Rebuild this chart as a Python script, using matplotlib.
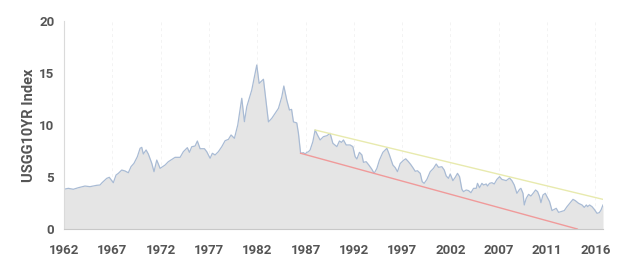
import matplotlib
matplotlib.use('Agg')
import matplotlib.pyplot as plt
import numpy as np

# --- data (decimal year, index value) ---
years = [
    1962.00, 1962.44, 1962.95, 1963.46, 1964.14, 1964.65, 1965.34, 1965.67, 1965.88, 1966.36,
    1966.62, 1967.03, 1967.31, 1967.54, 1967.89, 1968.22, 1968.56, 1968.84, 1969.14, 1969.48,
    1969.76, 1969.93, 1970.09, 1970.37, 1970.60, 1970.95, 1971.18, 1971.46, 1971.72, 1971.80,
    1972.31, 1972.64, 1973.33, 1973.84, 1974.17, 1974.58, 1974.79, 1975.03, 1975.37, 1975.60,
    1975.88, 1976.32, 1976.56, 1976.90, 1977.13, 1977.41, 1977.74, 1978.09, 1978.43, 1978.77,
    1979.04, 1979.38, 1979.72, 1980.13, 1980.40, 1980.64, 1981.15, 1981.66, 1981.90, 1982.34,
    1982.85, 1983.19, 1983.87, 1984.21, 1984.42, 1984.72, 1984.99, 1985.21, 1985.40, 1985.74,
    1985.91, 1986.13, 1986.42, 1986.59, 1986.77, 1986.93, 1987.10, 1987.38, 1987.61, 1987.85,
    1988.12, 1988.46, 1988.81, 1989.14, 1989.42, 1989.62, 1989.83, 1990.09, 1990.30, 1990.50,
    1990.78, 1991.18, 1991.46, 1991.69, 1991.87, 1992.13, 1992.38, 1992.54, 1992.82, 1993.09,
    1993.40, 1993.63, 1993.91, 1994.17, 1994.52, 1994.93, 1995.19, 1995.54, 1995.78, 1996.01,
    1996.29, 1996.62, 1996.85, 1997.10, 1997.36, 1997.58, 1997.82, 1998.05, 1998.33, 1998.53,
    1998.73, 1999.01, 1999.35, 1999.68, 1999.96, 2000.19, 2000.54, 2000.78, 2000.98, 2001.21,
    2001.39, 2001.66, 2001.90, 2002.13, 2002.34, 2002.58, 2002.74, 2003.02, 2003.26, 2003.50,
    2003.77, 2004.04, 2004.17, 2004.38, 2004.62, 2004.79, 2005.06, 2005.19, 2005.40, 2005.64,
    2005.88, 2006.15, 2006.42, 2006.66, 2007.10, 2007.44, 2007.68, 2007.92, 2008.19, 2008.46,
    2008.60, 2008.81, 2008.94, 2009.14, 2009.38, 2009.62, 2009.89, 2010.09, 2010.30, 2010.50,
    2010.64, 2010.85, 2011.08, 2011.26, 2011.52, 2011.77, 2012.00, 2012.20, 2012.44, 2012.68,
    2013.02, 2013.30, 2013.63, 2013.91, 2014.14, 2014.48, 2014.83, 2015.06, 2015.27, 2015.40,
    2015.60, 2015.85, 2016.08, 2016.36, 2016.59, 2016.77, 2016.97,
]
values = [
    3.82, 3.91, 3.82, 3.97, 4.13, 4.07, 4.20, 4.23, 4.45, 4.87,
    4.97, 4.45, 5.19, 5.35, 5.67, 5.58, 5.41, 6.00, 6.32, 6.95,
    7.76, 7.85, 7.21, 7.60, 7.21, 6.32, 5.51, 6.63, 6.00, 5.83,
    6.15, 6.47, 6.89, 6.89, 7.43, 7.82, 7.37, 7.91, 7.98, 8.46,
    7.72, 7.72, 7.43, 6.80, 7.28, 7.12, 7.43, 7.91, 8.49, 8.62,
    9.04, 8.72, 10.00, 12.57, 10.32, 11.76, 13.37, 15.77, 14.00, 14.40,
    10.30, 10.64, 11.60, 12.70, 13.75, 12.40, 11.44, 11.50, 10.30, 10.20,
    9.20, 7.28, 7.34, 7.21, 7.37, 7.43, 7.60, 8.40, 9.52, 9.04,
    8.56, 8.88, 8.97, 9.20, 8.24, 8.08, 7.92, 8.46, 8.33, 8.56,
    8.08, 8.08, 7.92, 6.96, 6.73, 7.37, 7.12, 6.41, 6.47, 6.15,
    5.74, 5.35, 5.83, 6.63, 7.37, 7.76, 7.12, 6.15, 5.90, 5.51,
    6.30, 6.60, 6.75, 6.50, 6.20, 5.90, 5.55, 5.60, 5.35, 4.55,
    4.39, 4.77, 5.51, 5.83, 6.25, 5.93, 5.99, 5.67, 5.10, 4.87,
    5.29, 4.65, 4.97, 5.35, 5.03, 3.81, 3.59, 3.75, 3.69, 3.49,
    3.91, 3.91, 4.39, 3.97, 4.39, 4.23, 4.33, 4.13, 4.39, 4.45,
    4.33, 4.77, 5.03, 4.77, 4.65, 4.90, 4.65, 4.23, 3.43, 3.81,
    3.91, 3.43, 2.31, 2.95, 3.33, 3.17, 3.49, 3.75, 3.59, 3.11,
    2.53, 3.27, 3.43, 3.11, 2.63, 1.77, 1.89, 1.99, 1.60, 1.67,
    1.77, 2.15, 2.53, 2.85, 2.73, 2.47, 2.31, 2.08, 2.31, 2.15,
    2.31, 2.15, 1.89, 1.51, 1.57, 1.83, 2.31,
]

# trend lines (start / end points)
upper_x = [1987.61, 2016.97]
upper_y = [9.52, 2.85]
lower_x = [1986.13, 2014.35]
lower_y = [7.28, 0.00]

tick_labels = ['1962', '1967', '1972', '1977', '1982', '1987',
               '1992', '1997', '2002', '2007', '2011', '2016']
y_ticks = [0, 5, 10, 15, 20]

plt.rcParams['font.family'] = ['Roboto', 'DejaVu Sans']

fig = plt.figure(figsize=(6.3, 2.62), dpi=100)
ax = fig.add_axes([64 / 630, 1 - 229 / 262, 539 / 630, 208 / 262])

ax.fill_between(years, values, 0, color='#e5e5e5', lw=0)
ax.plot(years, values, color='#a9bbd4', lw=0.9)
ax.plot(upper_x, upper_y, color='#e8eaae', lw=1.0)
ax.plot(lower_x, lower_y, color='#f09a9a', lw=1.0)

ax.set_xlim(years[0], years[-1])
ax.set_ylim(0, 20)

tick_pos = np.linspace(years[0], years[0] + 11 * 4.926, len(tick_labels))
ax.set_xticks(tick_pos)
ax.set_xticklabels(tick_labels)
ax.set_yticks(y_ticks)

for x in tick_pos:
    ax.axvline(x, color='#f3f3f3', lw=0.7, ls=(0, (3, 3)), zorder=0)

ax.tick_params(axis='both', length=0, labelsize=9.5, labelcolor='#555555')
ax.tick_params(axis='x', pad=11)
ax.tick_params(axis='y', pad=7)
for lbl in ax.get_xticklabels() + ax.get_yticklabels():
    lbl.set_fontweight('bold')

for side in ['top', 'right']:
    ax.spines[side].set_visible(False)
ax.spines['left'].set_color('#dadada')
ax.spines['bottom'].set_color('#c8c8c8')

ax.set_ylabel('USGG10YR Index', fontsize=10.5, fontweight='bold', color='#555555')
ax.yaxis.set_label_coords(-28 / 539, 0.5)

fig.savefig('out.png', dpi=100)
